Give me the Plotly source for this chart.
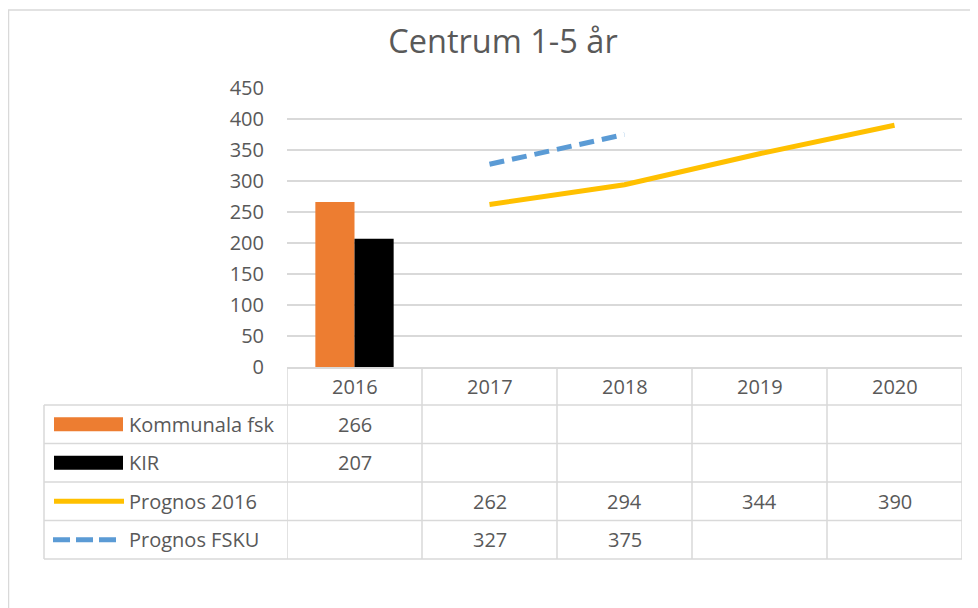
import plotly.graph_objects as go

# ---- data ----
categories = ["2016", "2017", "2018", "2019", "2020"]
kommunala_fsk = [266, None, None, None, None]
kir = [207, None, None, None, None]
prognos_2016 = [None, 262, 294, 344, 390]
prognos_fsku = [None, 327, 375, None, None]
series_names = ["Kommunala fsk", "KIR", "Prognos 2016", "Prognos FSKU"]
y_ticks = [0, 50, 100, 150, 200, 250, 300, 350, 400, 450]
chart_title = "Centrum 1-5 år"

# ---- styling ----
ORANGE = "#ED7D31"
BLACK = "#000000"
YELLOW = "#FFC000"
BLUE = "#5B9BD5"
GRID = "#D9D9D9"
TEXT = "#595959"
FONT = "Open Sans"

# page body has an 8px margin; the figure is placed at (8, 8)
OFF = 8
W, H = 978 - OFF, 608 - OFF
# reference-pixel geometry
REF_PLOT_LEFT, REF_PLOT_RIGHT = 287, 962
REF_PLOT_TOP, REF_PLOT_BOTTOM = 88, 367
ML = REF_PLOT_LEFT - OFF
MR = W - (REF_PLOT_RIGHT - OFF)
MT = REF_PLOT_TOP - OFF
MB = H - (REF_PLOT_BOTTOM - OFF)
PW = W - ML - MR
PH = H - MT - MB


def px_x(px):
    """reference pixel x -> paper"""
    return (px - REF_PLOT_LEFT) / PW


def px_y(py):
    """reference pixel y -> paper"""
    return (REF_PLOT_BOTTOM - py) / PH


fig = go.Figure()
fig.add_trace(go.Bar(x=categories, y=kommunala_fsk, name=series_names[0],
                     marker=dict(color=ORANGE, line=dict(width=0))))
fig.add_trace(go.Bar(x=categories, y=kir, name=series_names[1],
                     marker=dict(color=BLACK, line=dict(width=0))))
fig.add_trace(go.Scatter(x=categories, y=prognos_2016, name=series_names[2],
                         mode="lines", line=dict(color=YELLOW, width=5),
                         connectgaps=False))
fig.add_trace(go.Scatter(x=categories, y=prognos_fsku, name=series_names[3],
                         mode="lines", line=dict(color=BLUE, width=5, dash="15px,8px"),
                         connectgaps=False))

shapes = []
annotations = []

# chart outer border (top and left visible)
shapes.append(dict(type="line", xref="paper", yref="paper",
                   x0=px_x(8), x1=px_x(990), y0=px_y(10), y1=px_y(10),
                   line=dict(color=GRID, width=1.5)))
shapes.append(dict(type="line", xref="paper", yref="paper",
                   x0=px_x(8.5), x1=px_x(8.5), y0=px_y(10), y1=px_y(620),
                   line=dict(color=GRID, width=1.5)))

# data table geometry
header_top = REF_PLOT_BOTTOM
header_bottom = 405
row_h = 38.5
n_rows = len(series_names)
table_bottom = header_bottom + row_h * n_rows
table_left_px = 44
n_cat = len(categories)

# vertical lines for category columns
for i in range(n_cat + 1):
    shapes.append(dict(type="line", xref="x", yref="paper",
                       x0=i - 0.5, x1=i - 0.5,
                       y0=px_y(header_top), y1=px_y(table_bottom),
                       line=dict(color=GRID, width=1.5)))
# left border of legend column
shapes.append(dict(type="line", xref="paper", yref="paper",
                   x0=px_x(table_left_px), x1=px_x(table_left_px),
                   y0=px_y(header_bottom), y1=px_y(table_bottom),
                   line=dict(color=GRID, width=1.5)))
# horizontal lines
for r in range(n_rows + 1):
    yy = header_bottom + r * row_h
    shapes.append(dict(type="line", xref="paper", yref="paper",
                       x0=px_x(table_left_px), x1=1,
                       y0=px_y(yy), y1=px_y(yy),
                       line=dict(color=GRID, width=1.5)))

# header labels
for i, c in enumerate(categories):
    annotations.append(dict(x=i, xref="x", y=px_y((header_top + header_bottom) / 2),
                            yref="paper", text=c, showarrow=False,
                            font=dict(family=FONT, size=20, color=TEXT),
                            xanchor="center", yanchor="middle"))

# rows
all_series = [kommunala_fsk, kir, prognos_2016, prognos_fsku]
for r, (name, vals) in enumerate(zip(series_names, all_series)):
    yc = header_bottom + r * row_h + row_h / 2
    annotations.append(dict(x=px_x(127), xref="paper", y=px_y(yc), yref="paper",
                            text=name, showarrow=False, xanchor="left", yanchor="middle",
                            font=dict(family=FONT, size=20, color=TEXT)))
    for i, v in enumerate(vals):
        if v is not None:
            annotations.append(dict(x=i, xref="x", y=px_y(yc), yref="paper",
                                    text=str(v), showarrow=False,
                                    xanchor="center", yanchor="middle",
                                    font=dict(family=FONT, size=20, color=TEXT)))
    # legend keys
    if r in (0, 1):
        col = ORANGE if r == 0 else BLACK
        shapes.append(dict(type="rect", xref="paper", yref="paper",
                           x0=px_x(54), x1=px_x(123), y0=px_y(yc - 7), y1=px_y(yc + 7),
                           fillcolor=col, line=dict(width=0)))
    elif r == 2:
        shapes.append(dict(type="line", xref="paper", yref="paper",
                           x0=px_x(54), x1=px_x(124), y0=px_y(yc), y1=px_y(yc),
                           line=dict(color=YELLOW, width=5)))
    else:
        shapes.append(dict(type="line", xref="paper", yref="paper",
                           x0=px_x(53), x1=px_x(118), y0=px_y(yc), y1=px_y(yc),
                           line=dict(color=BLUE, width=5, dash="17px,6px")))

fig.update_layout(
    width=W, height=H,
    margin=dict(l=ML, r=MR, t=MT, b=MB, pad=0),
    paper_bgcolor="white", plot_bgcolor="white",
    showlegend=False,
    barmode="group", bargap=0.42, bargroupgap=0,
    title=dict(text=chart_title, x=(503 - OFF) / W, xanchor="center", xref="container",
               y=1 - (42 - OFF) / H, yanchor="middle", yref="container",
               font=dict(family=FONT, size=32.5, color=TEXT)),
    font=dict(family=FONT, color=TEXT),
    shapes=shapes,
    annotations=annotations,
)
fig.update_xaxes(type="category", range=[-0.5, n_cat - 0.5], showticklabels=False,
                 showgrid=False, showline=True, linecolor=GRID, linewidth=1.5,
                 ticks="", zeroline=False, fixedrange=True)
fig.update_yaxes(range=[0, 450], tickvals=y_ticks, showgrid=True, gridcolor=GRID,
                 gridwidth=1.5, zeroline=False, showline=False, ticks="",
                 tickfont=dict(family=FONT, size=20, color=TEXT),
                 ticklabelstandoff=22, fixedrange=True)

fig.write_html("out.html")
